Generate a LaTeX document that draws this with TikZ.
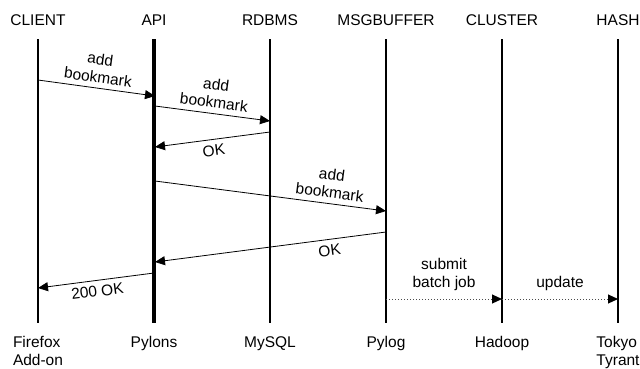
\documentclass[tikz,border=0pt]{standalone}
\usepackage{fontspec}
\setmainfont{Liberation Sans}
\usetikzlibrary{arrows.meta}

\tikzset{
  lifeline/.style={line width=1.5pt},
  callarrow/.style={line width=0.8pt,-{Triangle[length=10pt,width=9pt]}},
  asyncarrow/.style={line width=1pt,dotted,draw=black!70,-{Triangle[length=10pt,width=9pt,black]}},
  msglabel/.style={align=center,sloped,inner sep=2pt},
  endlabel/.style={align=left,anchor=north,inner sep=0pt}
}

\begin{document}
\begin{tikzpicture}[x=1pt,y=1pt,font=\fontsize{15.5}{18}\selectfont]
    \useasboundingbox (0,0) rectangle (640,-368);
    % the six parts of the system
    \node (client) at (38,-20) {CLIENT};
    \node (api) at (154,-20) {API};
    \node (rdbms) at (270,-20) {RDBMS};
    \node (msgbuffer) at (386,-20) {MSGBUFFER};
    \node (cluster) at (502,-20) {CLUSTER};
    \node (hash) at (618,-20) {HASH};
    \foreach \x in {38,270,386,502,618}
      \draw[lifeline] (\x,-39) -- (\x,-323);
    \draw[line width=3.5pt] (154,-39) -- (154,-323);
    \node[endlabel] (firefox) at (38,-336) {Firefox\\Add-on};
    \node[endlabel] (pylons) at (154,-336) {Pylons};
    \node[endlabel] (mysql) at (270,-336) {MySQL};
    \node[endlabel] (pylog) at (386,-336) {Pylog};
    \node[endlabel] (hadoop) at (502,-336) {Hadoop};
    \node[endlabel] (tyrant) at (618,-336) {Tokyo\\Tyrant};
    % message ends
    \coordinate (c1) at (38,-80);   \coordinate (a1) at (155,-96);
    \coordinate (a2) at (155,-106); \coordinate (r2) at (270,-121);
    \coordinate (r3) at (270,-132); \coordinate (a3) at (155,-147);
    \coordinate (a4) at (155,-181); \coordinate (b4) at (386,-211);
    \coordinate (b5) at (386,-232); \coordinate (a5) at (155,-262);
    \coordinate (a6) at (154,-273); \coordinate (c6) at (38,-288);
    \coordinate (b7) at (386,-299); \coordinate (h7) at (502,-299);
    \coordinate (h8) at (618,-299);
    % messages
    \draw[callarrow] (c1) -- node[msglabel,above=3pt] {add\\bookmark} (a1);
    \draw[callarrow] (a2) -- node[msglabel,above=3pt] {add\\bookmark} (r2);
    \draw[callarrow] (r3) -- node[msglabel,below=3pt] {OK} (a3);
    \draw[callarrow] (a4) -- node[msglabel,above=3pt,pos=0.75] {add\\bookmark} (b4);
    \draw[callarrow] (b5) -- node[msglabel,below=3pt,pos=0.25] {OK} (a5);
    \draw[callarrow] (a6) -- node[msglabel,below=3pt] {200 OK} (c6);
    \draw[asyncarrow] (b7) -- node[align=center,above=4pt] {submit\\batch job} (h7);
    \draw[asyncarrow] (h7) -- node[above=4pt] {update} (h8);
\end{tikzpicture}
\end{document}
